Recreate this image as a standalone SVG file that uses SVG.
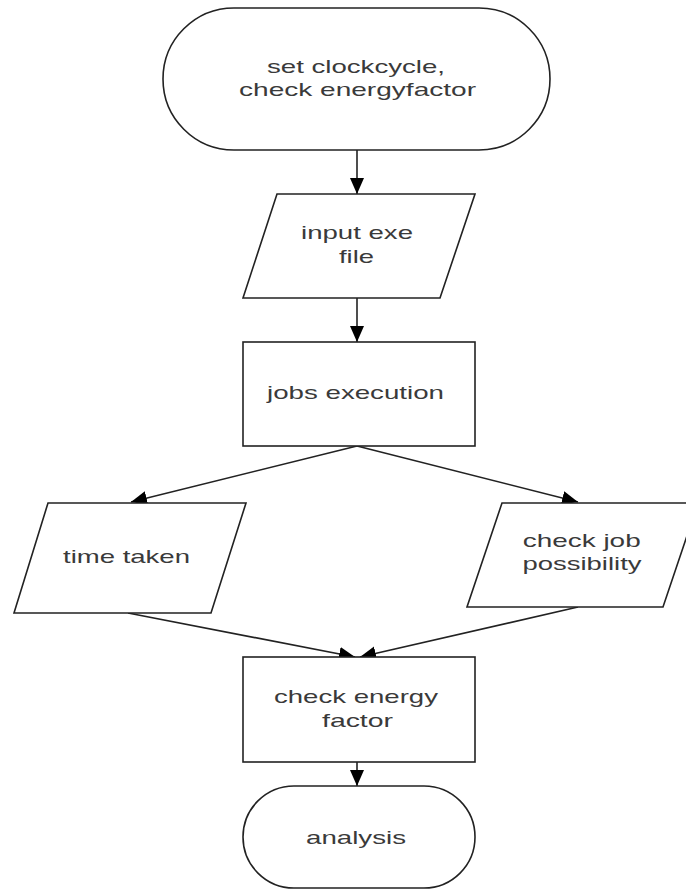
<svg xmlns="http://www.w3.org/2000/svg" width="686" height="893" viewBox="0 0 686 893">
<style>
.shape{fill:#fff;stroke:#222;stroke-width:1.6}
.conn{fill:none;stroke:#222;stroke-width:1.6}
.lbl{font-family:"Liberation Sans",Arial,sans-serif;font-size:19px;fill:#3a3a3a;text-anchor:middle}
</style>
<defs>
<marker id="arr" markerUnits="userSpaceOnUse" markerWidth="18" markerHeight="16" refX="16" refY="7" orient="auto">
<path d="M0,0 L16,7 L0,14 Z" fill="#000"/>
</marker>
</defs>
<rect width="686" height="893" fill="#fff"/>
<g id="connectors">
<line class="conn" x1="357" y1="150" x2="357" y2="194" marker-end="url(#arr)"/>
<line class="conn" x1="357" y1="298" x2="357" y2="342" marker-end="url(#arr)"/>
<line class="conn" x1="357" y1="446" x2="131" y2="502" marker-end="url(#arr)"/>
<line class="conn" x1="357" y1="446" x2="578" y2="502" marker-end="url(#arr)"/>
<line class="conn" x1="128" y1="613" x2="355" y2="657" marker-end="url(#arr)"/>
<line class="conn" x1="578" y1="607" x2="360" y2="657" marker-end="url(#arr)"/>
<line class="conn" x1="357" y1="762" x2="357" y2="786" marker-end="url(#arr)"/>
</g>
<g id="start">
<rect class="shape" x="163" y="8" width="387" height="142" rx="71" ry="71"/>
<text class="lbl" x="356" y="73" textLength="178" lengthAdjust="spacingAndGlyphs">set clockcycle,</text>
<text class="lbl" x="357.5" y="96" textLength="237" lengthAdjust="spacingAndGlyphs">check energyfactor</text>
</g>
<g id="input">
<polygon class="shape" points="277,194 475,194 440,298 243,298"/>
<text class="lbl" x="357" y="239" textLength="112" lengthAdjust="spacingAndGlyphs">input exe</text>
<text class="lbl" x="356.5" y="263" textLength="35" lengthAdjust="spacingAndGlyphs">file</text>
</g>
<g id="jobs">
<rect class="shape" x="243" y="342" width="232" height="104"/>
<text class="lbl" x="355.5" y="399" textLength="177" lengthAdjust="spacingAndGlyphs">jobs execution</text>
</g>
<g id="time">
<polygon class="shape" points="48,503 246,503 211,613 14,613"/>
<text class="lbl" x="126.5" y="563" textLength="127" lengthAdjust="spacingAndGlyphs">time taken</text>
</g>
<g id="possibility">
<polygon class="shape" points="502,503 698,503 663,607 467,607"/>
<text class="lbl" x="581.7" y="547" textLength="118" lengthAdjust="spacingAndGlyphs">check job</text>
<text class="lbl" x="582" y="570" textLength="119" lengthAdjust="spacingAndGlyphs">possibility</text>
</g>
<g id="energy">
<rect class="shape" x="243" y="657" width="232" height="105"/>
<text class="lbl" x="356" y="703" textLength="164" lengthAdjust="spacingAndGlyphs">check energy</text>
<text class="lbl" x="357.5" y="727" textLength="71" lengthAdjust="spacingAndGlyphs">factor</text>
</g>
<g id="analysis">
<rect class="shape" x="243" y="786" width="232" height="102" rx="51" ry="51"/>
<text class="lbl" x="356" y="844" textLength="100" lengthAdjust="spacingAndGlyphs">analysis</text>
</g>
</svg>
